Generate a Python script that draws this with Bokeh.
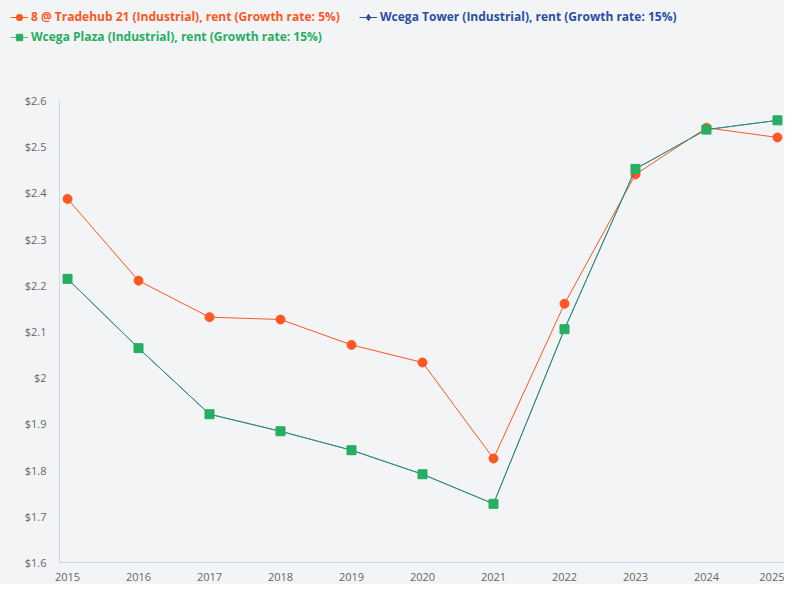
from bokeh.plotting import figure
from bokeh.layouts import column
from bokeh.models import (Legend, LegendItem, FixedTicker, NumeralTickFormatter,
                          Range1d)
from bokeh.embed import file_html
from bokeh.resources import INLINE

# data
years = [2015, 2016, 2017, 2018, 2019, 2020, 2021, 2022, 2023, 2024, 2025]
tradehub_rent = [2.387, 2.210, 2.131, 2.126, 2.071, 2.033, 1.825, 2.160, 2.440, 2.541, 2.520]
tower_rent = [2.214, 2.064, 1.921, 1.884, 1.843, 1.791, 1.727, 2.105, 2.452, 2.537, 2.557]
plaza_rent = [2.214, 2.064, 1.921, 1.884, 1.843, 1.791, 1.727, 2.105, 2.452, 2.537, 2.557]

labels = ["8 @ Tradehub 21 (Industrial), rent (Growth rate: 5%)",
          "Wcega Tower (Industrial), rent (Growth rate: 15%)",
          "Wcega Plaza (Industrial), rent (Growth rate: 15%)"]
y_ticks = [1.6, 1.7, 1.8, 1.9, 2.0, 2.1, 2.2, 2.3, 2.4, 2.5, 2.6]

ORANGE = "#ff5722"
BLUE = "#2b4fa2"
GREEN = "#27ae60"
BG = "#f3f4f6"
FONT = "Open Sans"


def draw_series(fig):
    # draws the three series on fig, returns (line, marker) pairs
    l1 = fig.line(years, tradehub_rent, color=ORANGE, line_width=1)
    s1 = fig.scatter(years, tradehub_rent, marker="circle", size=9, color=ORANGE)
    l2 = fig.line(years, tower_rent, color=BLUE, line_width=1)
    s2 = fig.scatter(years, tower_rent, marker="diamond", size=8, color=BLUE)
    l3 = fig.line(years, plaza_rent, color=GREEN, line_width=1, line_alpha=0.75)
    s3 = fig.scatter(years, plaza_rent, marker="square", size=9, color=GREEN)
    return [(l1, s1), (l2, s2), (l3, s3)]


# main chart
p = figure(width=784, height=492, output_backend="svg", toolbar_location=None,
           x_range=Range1d(2014.887, 2025.099), y_range=Range1d(1.6, 2.6),
           min_border_left=59, min_border_right=0, min_border_top=8, min_border_bottom=22,
           background_fill_color=BG, border_fill_color=BG, outline_line_color=None)

p.xgrid.visible = False
p.ygrid.visible = False

for ax in (p.xaxis[0], p.yaxis[0]):
    ax.axis_line_color = "#ccd6eb"
    ax.axis_line_width = 1
    ax.major_tick_out = 0
    ax.major_tick_in = 0
    ax.minor_tick_line_color = None
    ax.major_label_text_color = "#666666"
    ax.major_label_text_font = FONT
    ax.major_label_text_font_size = "11px"

p.xaxis.ticker = FixedTicker(ticks=years)
p.xaxis.major_label_standoff = 10
p.yaxis.ticker = FixedTicker(ticks=y_ticks)
p.yaxis.formatter = NumeralTickFormatter(format="$0.[0]")
p.yaxis.major_label_standoff = 13

draw_series(p)

# legend strip on top: same series, but the view is far away from the data,
# so only the legend shows. one legend per item so each label keeps its colour
leg = figure(width=784, height=92, output_backend="svg", toolbar_location=None,
             x_range=Range1d(0, 1), y_range=Range1d(0, 1),
             x_axis_location=None, y_axis_location=None,
             min_border=0, min_border_left=0, min_border_right=0,
             min_border_top=0, min_border_bottom=0,
             background_fill_color=BG, border_fill_color=BG,
             outline_line_color=None)
leg.frame_align = False
leg.xgrid.visible = False
leg.ygrid.visible = False

pairs = draw_series(leg)
spots = [(10, 67), (359, 67), (10, 47)]
colors = [ORANGE, BLUE, GREEN]

for i in range(3):
    lg = Legend(items=[LegendItem(label=labels[i], renderers=list(pairs[i]))],
                location=spots[i],
                label_text_color=colors[i], label_text_font=FONT,
                label_text_font_size="12px", label_text_font_style="bold",
                glyph_width=18, glyph_height=16, label_standoff=3,
                padding=0, margin=0, spacing=0,
                border_line_color=None, background_fill_alpha=0)
    leg.add_layout(lg, "center")

page = column(leg, p, spacing=0)
page.styles = {"background-color": BG}

open("out.html", "w").write(file_html(page, INLINE))
